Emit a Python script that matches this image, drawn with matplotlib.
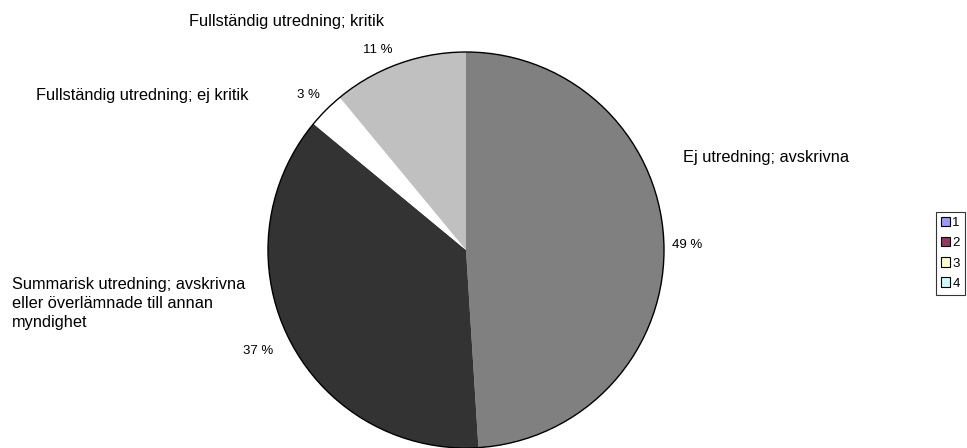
import matplotlib
matplotlib.use("Agg")
import matplotlib.pyplot as plt
from matplotlib.patches import Circle, Patch

plt.rcParams['font.family'] = ['Liberation Sans', 'DejaVu Sans']

categories = ["Ej utredning; avskrivna",
              "Summarisk utredning; avskrivna\neller överlämnade till annan\nmyndighet",
              "Fullständig utredning; ej kritik",
              "Fullständig utredning; kritik"]
values = [49, 37, 3, 11]
slice_colors = ["#808080", "#333333", "#FFFFFF", "#C0C0C0"]
legend_labels = ["1", "2", "3", "4"]
legend_colors = ["#9999FF", "#993366", "#FFFFCC", "#CCFFFF"]

W, H = 967, 448
fig = plt.figure(figsize=(W / 100, H / 100), dpi=100)
ax = fig.add_axes([0, 0, 1, 1])

cx, cy, r = 466, H - 250, 198
ax.pie(values, colors=slice_colors, startangle=90, counterclock=False,
       center=(cx, cy), radius=r, frame=True,
       wedgeprops=dict(linewidth=0, antialiased=True))
ax.set_xlim(0, W)
ax.set_ylim(0, H)
ax.set_aspect('equal')
ax.axis('off')
ax.add_patch(Circle((cx, cy), r, fill=False, edgecolor='black', linewidth=1.0))

# category label positions (pixels: left x, center y)
cat_pos = [(683, 157), (12, 303.5), (36, 95), (189, 21)]
pct_pos = [(672, 245), (243, 351), (297, 95), (363, 50)]
for lab, (x, y) in zip(categories, cat_pos):
    ax.text(x, H - y, lab, ha='left', va='center', fontsize=11.8, linespacing=1.3)
for v, (x, y) in zip(values, pct_pos):
    ax.text(x, H - y, f"{v} %", ha='left', va='center', fontsize=9.5)

handles = [Patch(facecolor=c, edgecolor='black', linewidth=0.8) for c in legend_colors]
leg = fig.legend(handles, legend_labels, loc='upper left',
                 bbox_to_anchor=(936 / W, 1 - 212 / H), fontsize=9.5,
                 frameon=True, fancybox=False, shadow=False,
                 handlelength=0.7, handleheight=0.7, handletextpad=0.15,
                 labelspacing=0.6, borderpad=0.38, borderaxespad=0)
leg.get_frame().set_edgecolor('black')
leg.get_frame().set_linewidth(0.8)

fig.savefig("out.png", dpi=100)
